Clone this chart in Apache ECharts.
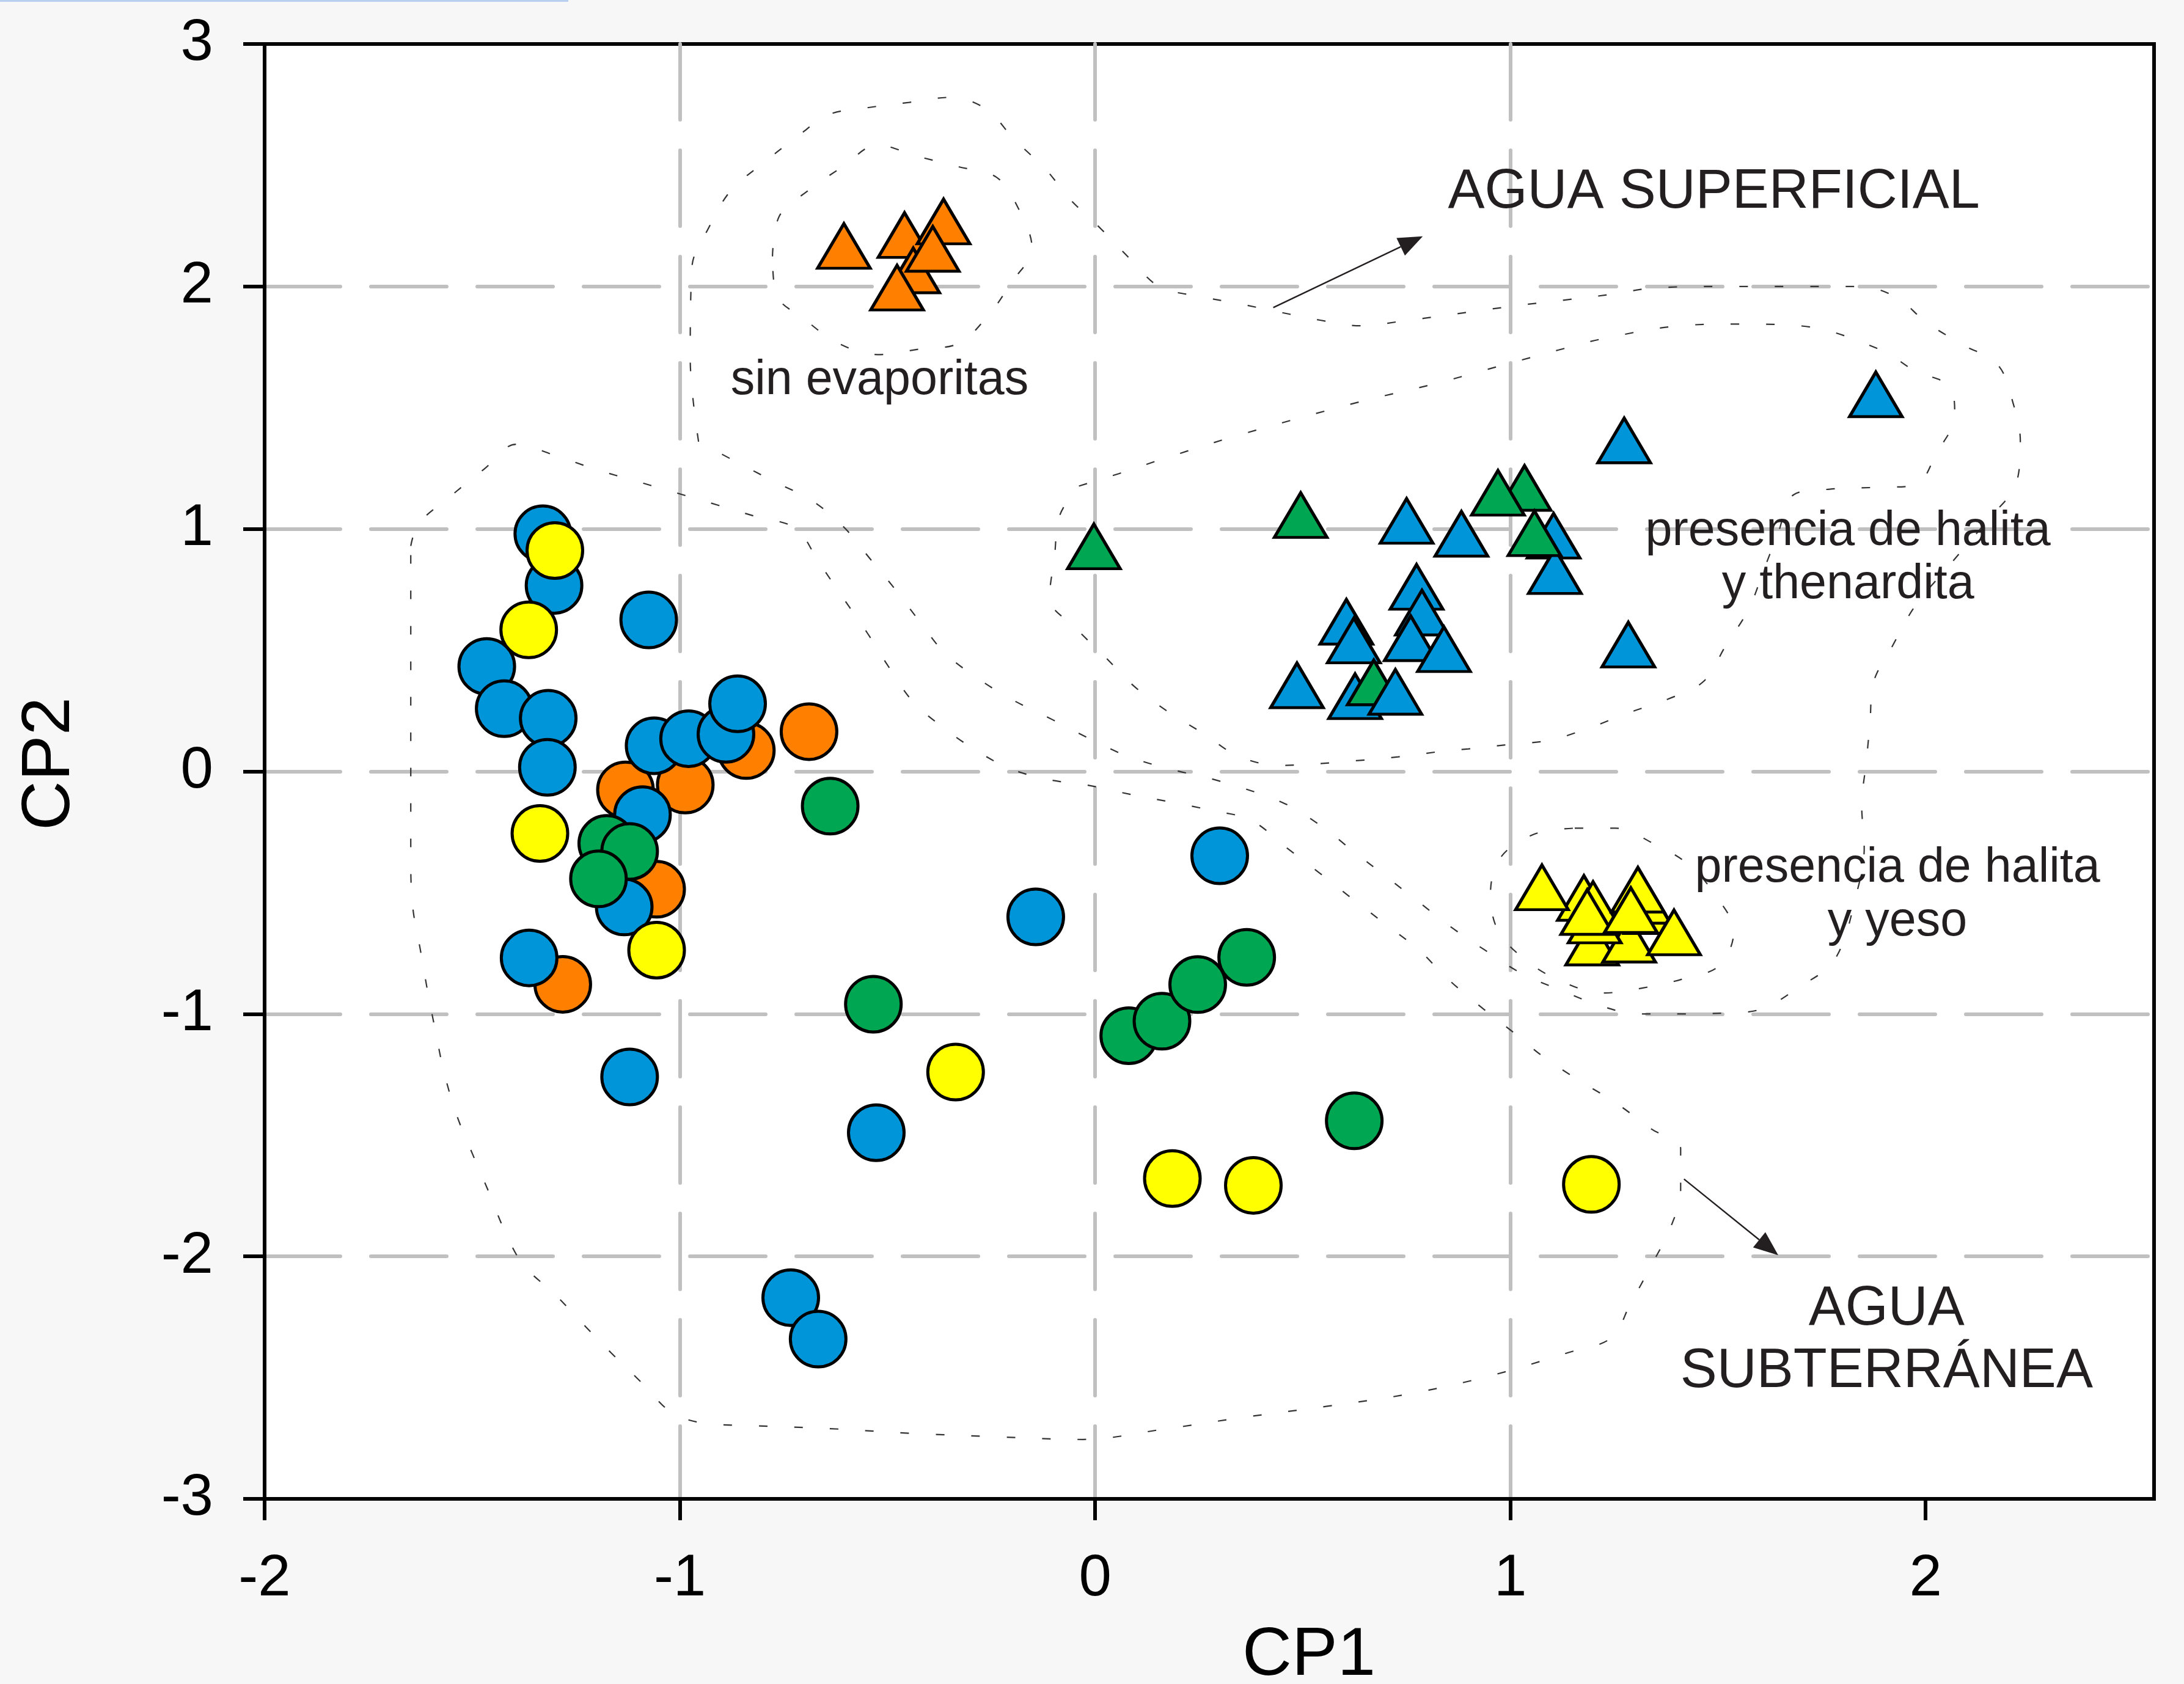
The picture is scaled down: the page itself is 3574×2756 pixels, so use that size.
<!DOCTYPE html>
<html><head><meta charset="utf-8">
<script src="https://cdn.jsdelivr.net/npm/echarts@6/dist/echarts.min.js"></script>
<style>html,body{margin:0;padding:0;background:#F7F7F7;}#c{width:3574px;height:2756px;}</style>
</head><body><div id="c"></div>
<script>
const FONT = "'Liberation Sans', Arial, Helvetica, sans-serif";
const xTicks = [-2, -1, 0, 1, 2];
const yTicks = [-3, -2, -1, 0, 1, 2, 3];

// Groundwater samples (circles)
const blueCircles = [[-1.330,0.980],[-1.303,0.767],[-1.465,0.433],[-1.423,0.259],[-1.317,0.219],[-1.319,0.017],[-1.075,0.625],[-1.062,0.106],[-0.979,0.135],[-0.889,0.153],[-0.861,0.279],[-1.090,-0.178],[-1.134,-0.559],[-1.363,-0.769],[-1.121,-1.260],[-0.143,-0.600],[0.300,-0.348],[-0.527,-1.490],[-0.733,-2.170],[-0.667,-2.341]];
const orangeCircles = [[-0.840,0.086],[-0.689,0.164],[-1.131,-0.076],[-0.987,-0.056],[-1.056,-0.486],[-1.282,-0.878]];
const greenCircles = [[-0.638,-0.143],[-1.176,-0.297],[-1.121,-0.330],[-1.196,-0.443],[-0.534,-0.960],[0.081,-1.090],[0.161,-1.030],[0.247,-0.879],[0.365,-0.767],[0.624,-1.441]];
const yellowCircles = [[-1.301,0.911],[-1.364,0.584],[-1.337,-0.256],[-1.056,-0.737],[-0.336,-1.240],[0.186,-1.679],[0.381,-1.707],[1.195,-1.703]];

// Surface water samples (triangles)
const orangeTriangles = [[-0.605,2.167],[-0.459,2.212],[-0.365,2.268],[-0.438,2.066],[-0.391,2.155],[-0.477,1.995]];
const blueTriangles = [[0.750,1.033],[0.882,0.980],[0.774,0.761],[0.787,0.655],[0.605,0.617],[0.623,0.540],[0.760,0.549],[0.840,0.504],[0.486,0.355],[0.626,0.310],[1.104,0.972],[1.107,0.826],[1.274,1.365],[1.284,0.523],[1.880,1.555]];
const greenTriangles = [[-0.003,0.928],[0.495,1.057],[1.034,1.169],[0.970,1.149],[1.058,0.982],[0.671,0.367]];
const blueTrianglesTop = [[0.723,0.328]];
const yellowTriangles = [[1.197,-0.706],[1.286,-0.694],[1.203,-0.615],[1.177,-0.522],[1.199,-0.547],[1.185,-0.580],[1.337,-0.576],[1.322,-0.534],[1.307,-0.488],[1.290,-0.572],[1.076,-0.478],[1.394,-0.664]];

// Dotted enclosures
const contourSuperficial = [[-0.955,1.360],[-0.975,1.70],[-0.971,2.078],[-0.929,2.247],[-0.878,2.394],[-0.802,2.506],[-0.726,2.606],[-0.642,2.708],[-0.549,2.737],[-0.448,2.759],[-0.347,2.780],[-0.262,2.731],[-0.195,2.607],[-0.119,2.483],[-0.060,2.359],[0.015,2.236],[0.085,2.112],[0.155,1.999],[0.252,1.959],[0.349,1.928],[0.445,1.894],[0.542,1.861],[0.638,1.838],[0.744,1.858],[0.840,1.880],[0.937,1.903],[1.034,1.925],[1.130,1.944],[1.236,1.966],[1.341,1.993],[1.50,2.0],[1.70,2.0],[1.84,2.0],[1.930,1.955],[2.000,1.854],[2.087,1.762],[2.174,1.676],[2.211,1.516],[2.228,1.361],[2.218,1.188],[2.151,1.04],[2.063,0.862],[1.975,0.683],[1.920,0.517],[1.874,0.365],[1.866,0.202],[1.857,0.040],[1.846,-0.141],[1.852,-0.317],[1.835,-0.494],[1.782,-0.773],[1.694,-0.891],[1.597,-0.984],[1.518,-0.996],[1.410,-1.0],[1.307,-1.0],[1.215,-0.965],[1.121,-0.902],[1.028,-0.834],[0.937,-0.735],[0.858,-0.643],[0.779,-0.538],[0.700,-0.433],[0.620,-0.327],[0.542,-0.222],[0.452,-0.129],[0.30,-0.04],[0.18,0.01],[0.079,0.062],[-0.012,0.134],[-0.101,0.212],[-0.204,0.300],[-0.288,0.390],[-0.363,0.490],[-0.422,0.617],[-0.482,0.752],[-0.541,0.875],[-0.606,1.009],[-0.682,1.117],[-0.771,1.194],[-0.859,1.272],[-0.955,1.360]];
const contourSubterranea = [[-1.648,0.930],[-1.629,1.022],[-1.553,1.134],[-1.472,1.246],[-1.394,1.349],[-1.300,1.303],[-1.203,1.246],[-1.105,1.197],[-1.009,1.149],[-0.912,1.100],[-0.817,1.051],[-0.721,1.002],[-0.665,0.862],[-0.608,0.718],[-0.549,0.572],[-0.499,0.436],[-0.440,0.290],[-0.372,0.189],[-0.288,0.088],[-0.204,0.011],[-0.111,-0.034],[-0.017,-0.057],[0.094,-0.098],[0.181,-0.126],[0.281,-0.161],[0.375,-0.201],[0.462,-0.316],[0.542,-0.421],[0.620,-0.526],[0.700,-0.631],[0.779,-0.735],[0.848,-0.854],[0.928,-0.970],[1.007,-1.076],[1.078,-1.175],[1.165,-1.274],[1.253,-1.366],[1.340,-1.475],[1.410,-1.556],[1.410,-1.731],[1.385,-1.883],[1.340,-2.035],[1.288,-2.199],[1.243,-2.336],[1.139,-2.397],[0.955,-2.491],[0.760,-2.566],[0.559,-2.618],[0.357,-2.664],[0.164,-2.713],[-0.030,-2.755],[-0.238,-2.744],[-0.439,-2.730],[-0.643,-2.710],[-0.827,-2.698],[-0.946,-2.687],[-1.022,-2.641],[-1.089,-2.526],[-1.166,-2.397],[-1.233,-2.279],[-1.300,-2.158],[-1.377,-2.035],[-1.422,-1.894],[-1.461,-1.731],[-1.499,-1.579],[-1.538,-1.415],[-1.568,-1.240],[-1.588,-1.076],[-1.608,-0.901],[-1.625,-0.735],[-1.643,-0.563],[-1.648,-0.373],[-1.648,-0.210],[-1.648,0.31],[-1.648,0.930]];
const contourThenardita = [[-0.039,1.177],[0.057,1.228],[0.151,1.282],[0.338,1.383],[0.630,1.521],[0.826,1.602],[0.921,1.647],[1.019,1.693],[1.116,1.738],[1.213,1.781],[1.403,1.837],[1.55,1.845],[1.702,1.837],[1.893,1.738],[1.973,1.653],[2.060,1.584],[2.070,1.470],[2.027,1.315],[1.973,1.179],[1.874,1.171],[1.769,1.164],[1.682,1.141],[1.645,0.985],[1.610,0.830],[1.574,0.670],[1.518,0.517],[1.465,0.371],[1.379,0.298],[1.285,0.242],[1.191,0.180],[1.095,0.129],[0.996,0.111],[0.899,0.093],[0.831,0.082],[0.730,0.060],[0.634,0.045],[0.446,0.025],[0.346,0.062],[0.260,0.157],[0.175,0.247],[0.096,0.348],[0.024,0.472],[-0.046,0.590],[-0.110,0.714],[-0.098,0.883],[-0.085,1.057],[-0.039,1.177]];
const contourYeso = [[1.155,-0.234],[1.253,-0.234],[1.344,-0.297],[1.430,-0.385],[1.496,-0.516],[1.538,-0.658],[1.503,-0.801],[1.415,-0.856],[1.319,-0.893],[1.222,-0.914],[1.126,-0.868],[1.043,-0.786],[0.972,-0.662],[0.952,-0.507],[0.976,-0.356],[1.057,-0.259],[1.155,-0.234]];
const contourEvaporitas = [[-0.777,2.124],[-0.760,2.292],[-0.693,2.393],[-0.608,2.494],[-0.524,2.584],[-0.432,2.539],[-0.330,2.494],[-0.238,2.451],[-0.186,2.326],[-0.152,2.158],[-0.204,2.011],[-0.254,1.888],[-0.330,1.764],[-0.422,1.742],[-0.524,1.719],[-0.616,1.764],[-0.701,1.866],[-0.768,1.966],[-0.777,2.124]];

// Arrows [x1, y1, x2(tip), y2(tip)]
const arrows = [[0.429,1.913,0.789,2.207],[1.418,-1.681,1.645,-1.995]];

// Annotations
const noteTexts = ['AGUA SUPERFICIAL','sin evaporitas','presencia de halita\ny thenardita','presencia de halita\ny yeso','AGUA\nSUBTERRÁNEA'];
const notePos = [[1.490,2.387],[-0.519,1.610],[1.813,0.878],[1.932,-0.511],[1.906,-2.347]];

const noteSize = [90,79,79,79,90];
const noteLineHeight = [92,82,87,88,102];

const chart = echarts.init(document.getElementById('c'), null, {renderer:'canvas'});

const contourStyle = {type:[14,44], width:2.2, color:'#333333'};
function contour(data){
  return {type:'line', data:data, showSymbol:false, symbol:'none', smooth:0.35, silent:true, z:1,
          lineStyle:contourStyle, animation:false};
}
function scatter(data, color, symbol){
  const tri = symbol === 'triangle';
  return {type:'scatter', data:data, symbol:symbol, symbolSize: tri ? [86,73] : 91, z:3, silent:true,
          itemStyle:{color:color, borderColor:'#000', borderWidth:5, borderJoin:'miter', opacity:1},
          emphasis:{disabled:true}};
}
const BLUE='#0095D9', ORANGE='#FF7F00', GREEN='#00A651', YELLOW='#FFFF00';
const gridLine = {show:true, showMinLine:false, showMaxLine:false, lineStyle:{color:'#C0C0C0', width:6, type:[124,50], cap:'round'}};

const option = {
  backgroundColor:'#F7F7F7',
  animation:false,
  grid:{left:433, right:49, top:72, bottom:303, show:true, backgroundColor:'#FFFFFF', borderColor:'#000', borderWidth:6, containLabel:false},
  xAxis:{type:'value', min:-2, max:2.55, interval:1,
    axisLine:{show:true, onZero:false, lineStyle:{color:'#000', width:6}},
    axisTick:{show:true, inside:false, length:35, customValues:xTicks, lineStyle:{color:'#000', width:6}},
    axisLabel:{show:true, customValues:xTicks, margin:84, fontSize:96, color:'#000', fontFamily:FONT,
      formatter:function(v){ return Number.isInteger(v) ? String(v) : ''; }},
    splitLine:gridLine
  },
  yAxis:{type:'value', min:-3, max:3, interval:1,
    axisLine:{show:true, onZero:false, lineStyle:{color:'#000', width:6}},
    axisTick:{show:true, inside:false, length:35, customValues:yTicks, lineStyle:{color:'#000', width:6}},
    axisLabel:{show:true, customValues:yTicks, margin:84, fontSize:96, color:'#000', fontFamily:FONT},
    splitLine:gridLine
  },
  graphic:[
    {type:'rect', shape:{x:0, y:0, width:930, height:3}, style:{fill:'#B9CFF0'}, z:100},
    {type:'text', x:2142, y:2710, style:{text:'CP1', font:'112px '+FONT, fill:'#000', align:'center', verticalAlign:'middle', textAlign:'center', textVerticalAlign:'middle'}, z:100},
    {type:'text', x:82, y:1250, rotation:Math.PI/2, style:{text:'CP2', font:'112px '+FONT, fill:'#000', align:'center', verticalAlign:'middle', textAlign:'center', textVerticalAlign:'middle'}, z:100}
  ],
  series:[
    contour(contourSuperficial),
    contour(contourSubterranea),
    contour(contourThenardita),
    contour(contourYeso),
    contour(contourEvaporitas),
    scatter(orangeCircles, ORANGE, 'circle'),
    scatter(blueCircles, BLUE, 'circle'),
    scatter(greenCircles, GREEN, 'circle'),
    scatter(yellowCircles, YELLOW, 'circle'),
    scatter(blueTriangles, BLUE, 'triangle'),
    scatter(greenTriangles, GREEN, 'triangle'),
    scatter(blueTrianglesTop, BLUE, 'triangle'),
    scatter(orangeTriangles, ORANGE, 'triangle'),
    scatter(yellowTriangles, YELLOW, 'triangle'),
    {type:'custom', z:5, silent:true, clip:false, data:arrows, encode:{x:[0,2], y:[1,3]},
      renderItem:function(params, api){
        const a = api.coord([api.value(0), api.value(1)]);
        const b = api.coord([api.value(2), api.value(3)]);
        const dx=b[0]-a[0], dy=b[1]-a[1], len=Math.hypot(dx,dy);
        const ux=dx/len, uy=dy/len, L=40, W=32;
        const bx=b[0]-ux*L, by=b[1]-uy*L, px=-uy, py=ux;
        return {type:'group', children:[
          {type:'line', shape:{x1:a[0], y1:a[1], x2:bx, y2:by}, style:{stroke:'#231F20', lineWidth:2.4}},
          {type:'polygon', shape:{points:[[b[0],b[1]],[bx+px*W/2,by+py*W/2],[bx-px*W/2,by-py*W/2]]}, style:{fill:'#231F20'}}
        ]};
      }},
    {type:'custom', z:6, silent:true, clip:false, data:notePos.map(function(p,i){return [p[0],p[1],i];}), encode:{x:0, y:1},
      renderItem:function(params, api){
        const i = api.value(2);
        const p = api.coord([api.value(0), api.value(1)]);
        return {type:'text', x:p[0], y:p[1], style:{text:noteTexts[i], fill:'#231F20',
          font: noteSize[i]+'px '+FONT, fontSize: noteSize[i], fontFamily: FONT,
          align:'center', verticalAlign:'middle', textAlign:'center', textVerticalAlign:'middle',
          lineHeight: noteLineHeight[i]}};
      }}
  ]
};
chart.setOption(option);
</script></body></html>
